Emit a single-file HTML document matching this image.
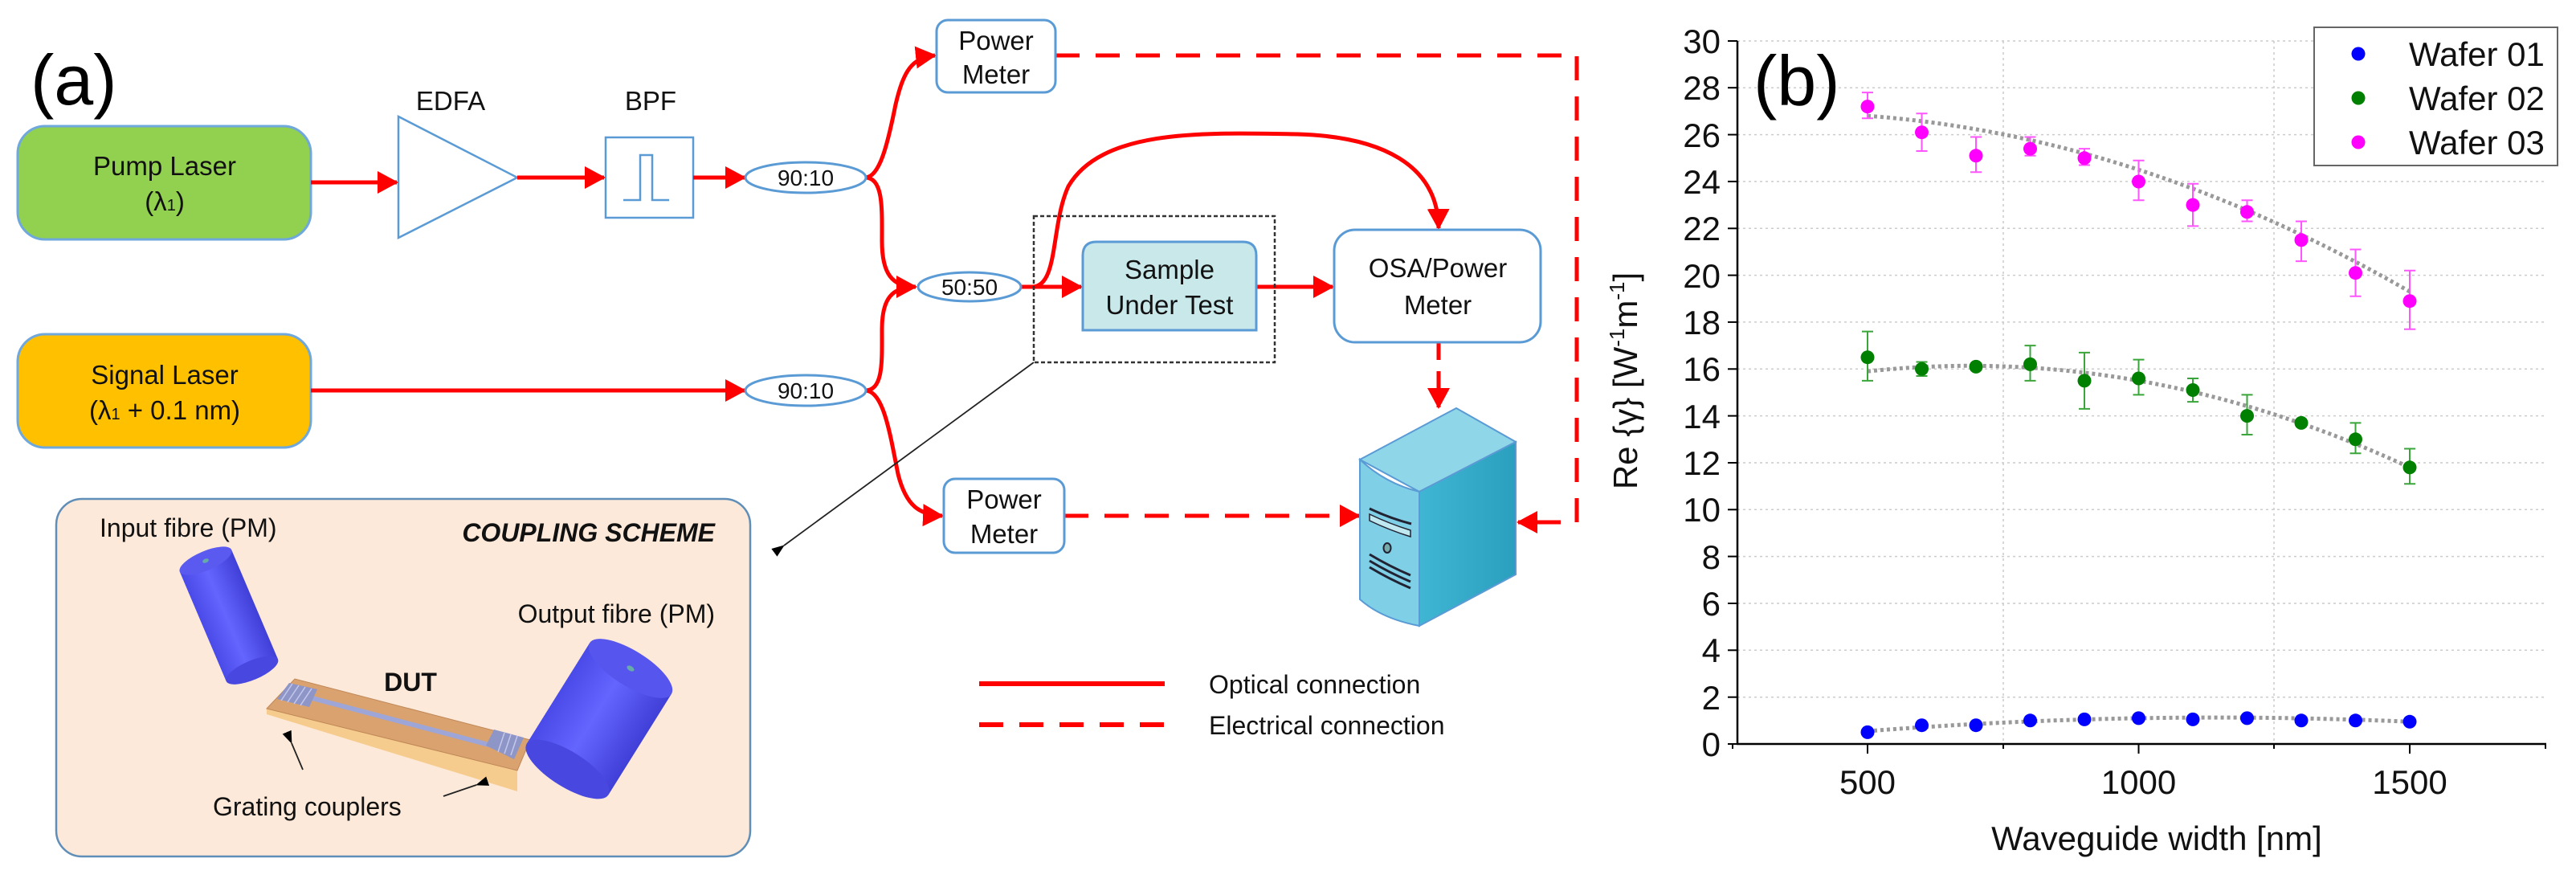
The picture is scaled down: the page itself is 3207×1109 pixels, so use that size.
<!DOCTYPE html>
<html><head><meta charset="utf-8"><style>
html,body{margin:0;padding:0;background:#fff;}
svg{display:block;}
.c{font-family:"Liberation Sans Narrow","Liberation Sans",sans-serif;fill:#111;}
.a{font-family:"Liberation Sans",sans-serif;fill:#111;}
</style></head><body>
<svg width="3207" height="1109" viewBox="0 0 3207 1109" xmlns="http://www.w3.org/2000/svg">
<defs>
<marker id="ar" markerUnits="userSpaceOnUse" markerWidth="26" markerHeight="28" refX="24" refY="14" orient="auto"><path d="M0,0 L26,14 L0,28 z" fill="#ff0000"/></marker>
<marker id="ab" markerUnits="userSpaceOnUse" markerWidth="16" markerHeight="12" refX="1" refY="6" orient="auto"><path d="M16,0 L0,6 L16,12 z" fill="#000"/></marker>
<linearGradient id="srvR" x1="0" x2="1"><stop offset="0" stop-color="#3fb6d3"/><stop offset="1" stop-color="#2a9fbe"/></linearGradient>
<linearGradient id="cyl" x1="0" x2="1"><stop offset="0" stop-color="#4a4ae8"/><stop offset="0.45" stop-color="#6464ff"/><stop offset="1" stop-color="#4040d8"/></linearGradient>
</defs>

<!-- (a) label -->
<text x="38" y="130" font-family="Liberation Sans,sans-serif" font-size="88" fill="#000">(a)</text>

<!-- lasers -->
<rect x="22" y="157" width="365" height="141" rx="34" fill="#92d050" stroke="#6fa8dc" stroke-width="3"/>
<text class="c" x="205" y="218" font-size="33" text-anchor="middle">Pump Laser</text>
<text class="c" x="205" y="262" font-size="33" text-anchor="middle">(λ<tspan font-size="20">1</tspan>)</text>
<rect x="22" y="416" width="365" height="141" rx="34" fill="#ffc000" stroke="#6fa8dc" stroke-width="3"/>
<text class="c" x="205" y="478" font-size="33" text-anchor="middle">Signal Laser</text>
<text class="c" x="205" y="522" font-size="33" text-anchor="middle">(λ<tspan font-size="20">1</tspan> + 0.1 nm)</text>

<!-- EDFA / BPF -->
<text class="c" x="561" y="137" font-size="33" text-anchor="middle">EDFA</text>
<polygon points="496,145 644,221 496,296" fill="#fff" stroke="#5b9bd5" stroke-width="2.5"/>
<text class="c" x="810" y="137" font-size="33" text-anchor="middle">BPF</text>
<rect x="754" y="171" width="109" height="100" fill="#fff" stroke="#5b9bd5" stroke-width="2.5"/>
<path d="M776,249 H797 V193 H812 V249 H833" fill="none" stroke="#5b9bd5" stroke-width="2.5"/>

<!-- optical lines -->
<g stroke="#ff0000" stroke-width="5" fill="none">
<line x1="387" y1="227" x2="494" y2="227" marker-end="url(#ar)"/>
<line x1="644" y1="221" x2="752" y2="221" marker-end="url(#ar)"/>
<line x1="863" y1="221" x2="927" y2="221" marker-end="url(#ar)"/>
<line x1="387" y1="486" x2="927" y2="486" marker-end="url(#ar)"/>
<path d="M1077,221 C1095,221 1105,180 1115,130 C1125,88 1135,72 1164,69" marker-end="url(#ar)"/>
<path d="M1077,221 C1100,221 1098,260 1098,300 C1098,340 1110,357 1140,357" marker-end="url(#ar)"/>
<path d="M1077,486 C1100,486 1098,450 1098,410 C1098,372 1110,357 1140,357"/>
<path d="M1077,486 C1100,486 1108,540 1118,590 C1128,630 1145,641 1173,642" marker-end="url(#ar)"/>
<line x1="1271" y1="357" x2="1346" y2="357" marker-end="url(#ar)"/>
<line x1="1564" y1="357" x2="1659" y2="357" marker-end="url(#ar)"/>
<path d="M1285,357 C1318,357 1308,280 1330,232 C1372,160 1500,165 1615,167 C1720,170 1790,205 1791,284" marker-end="url(#ar)"/>
</g>

<!-- electrical dashed -->
<g stroke="#ff0000" stroke-width="5" fill="none" stroke-dasharray="30,20">
<path d="M1314,69 H1963 V650 H1890" marker-end="url(#ar)"/>
<line x1="1325" y1="642" x2="1692" y2="642" marker-end="url(#ar)"/>
<line x1="1791" y1="426" x2="1791" y2="507" stroke-dasharray="22,14" marker-end="url(#ar)"/>
</g>

<!-- splitters -->
<ellipse cx="1003" cy="221" rx="75" ry="19" fill="#fff" stroke="#5b9bd5" stroke-width="3"/>
<text class="c" x="1003" y="231" font-size="28" text-anchor="middle">90:10</text>
<ellipse cx="1003" cy="486" rx="75" ry="19" fill="#fff" stroke="#5b9bd5" stroke-width="3"/>
<text class="c" x="1003" y="496" font-size="28" text-anchor="middle">90:10</text>
<ellipse cx="1207" cy="357" rx="64" ry="18" fill="#fff" stroke="#5b9bd5" stroke-width="3"/>
<text class="c" x="1207" y="367" font-size="28" text-anchor="middle">50:50</text>

<!-- power meters -->
<rect x="1166" y="25" width="148" height="90" rx="14" fill="#fff" stroke="#5b9bd5" stroke-width="3"/>
<text class="c" x="1240" y="62" font-size="33" text-anchor="middle">Power</text>
<text class="c" x="1240" y="104" font-size="33" text-anchor="middle">Meter</text>
<rect x="1175" y="596" width="150" height="92" rx="14" fill="#fff" stroke="#5b9bd5" stroke-width="3"/>
<text class="c" x="1250" y="633" font-size="33" text-anchor="middle">Power</text>
<text class="c" x="1250" y="676" font-size="33" text-anchor="middle">Meter</text>

<!-- dotted box & SUT -->
<rect x="1287" y="269" width="300" height="182" fill="none" stroke="#333" stroke-width="2.5" stroke-dasharray="5,3"/>
<path d="M1348,411 V318 Q1348,301 1365,301 H1547 Q1564,301 1564,318 V411 Z" fill="#c9e8ea" stroke="#5b9bd5" stroke-width="3"/>
<text class="c" x="1456" y="347" font-size="33" text-anchor="middle">Sample</text>
<text class="c" x="1456" y="391" font-size="33" text-anchor="middle">Under Test</text>
<line x1="1287" y1="451" x2="976" y2="679" stroke="#222" stroke-width="1.8" marker-end="url(#ab)"/>

<!-- OSA -->
<rect x="1661" y="286" width="257" height="140" rx="26" fill="#fff" stroke="#5b9bd5" stroke-width="3"/>
<text class="c" x="1790" y="345" font-size="33" text-anchor="middle">OSA/Power</text>
<text class="c" x="1790" y="391" font-size="33" text-anchor="middle">Meter</text>

<!-- server -->
<polygon points="1693,572 1813,508 1887,550 1767,612" fill="#8fd6e8" stroke="#5b9bd5" stroke-width="2"/>
<polygon points="1767,612 1887,550 1887,715 1767,779" fill="url(#srvR)" stroke="#5b9bd5" stroke-width="2"/>
<path d="M1693,572 Q1725,602 1767,612 V779 Q1720,770 1693,746 Z" fill="#7fd0e6" stroke="#5b9bd5" stroke-width="2"/>
<g stroke="#223" stroke-width="3" fill="none">
<path d="M1705,633 Q1730,645 1757,652"/>
<path d="M1705,690 Q1730,705 1756,716"/><path d="M1705,698 Q1730,713 1756,724"/><path d="M1705,706 Q1730,721 1756,732"/>
</g>
<path d="M1705,640 Q1730,652 1756,660 V668 Q1730,660 1705,648 Z" fill="#bfe8f0" stroke="#223" stroke-width="1.5"/>
<ellipse cx="1727" cy="682" rx="4.5" ry="6" fill="#7aa" stroke="#223" stroke-width="2"/>

<!-- legend -->
<line x1="1219" y1="851" x2="1450" y2="851" stroke="#ff0000" stroke-width="6"/>
<text class="c" x="1505" y="863" font-size="32">Optical connection</text>
<line x1="1219" y1="902" x2="1450" y2="902" stroke="#ff0000" stroke-width="6" stroke-dasharray="30,20"/>
<text class="c" x="1505" y="914" font-size="32">Electrical connection</text>

<!-- coupling scheme -->
<rect x="70" y="621" width="864" height="445" rx="32" fill="#fde9d9" stroke="#5f8fb8" stroke-width="2.5"/>
<text class="c" x="124" y="668" font-size="32">Input fibre (PM)</text>
<text class="c" x="890" y="674" font-size="32" font-weight="bold" font-style="italic" text-anchor="end">COUPLING SCHEME</text>
<text class="c" x="890" y="775" font-size="32" text-anchor="end">Output fibre (PM)</text>
<g transform="translate(256,698) rotate(-23)">
<rect x="-35" y="0" width="70" height="148" fill="url(#cyl)"/>
<ellipse cx="0" cy="148" rx="35" ry="12" fill="#4848e0"/>
<ellipse cx="0" cy="0" rx="35" ry="12" fill="#5a5af0"/>
<ellipse cx="0" cy="0" rx="4" ry="2.5" fill="#6aa"/>
</g>
<!-- chip -->
<polygon points="332,882 644,959 644,985 332,889" fill="#f6cc8e"/>
<polygon points="332,882 367,845 660,921 644,959" fill="#d9a26f" stroke="#c08858" stroke-width="1"/>
<line x1="385" y1="868" x2="620" y2="930" stroke="#9ea6d8" stroke-width="6"/>
<polygon points="345,870 360,850 395,858 385,880" fill="#8e96c8"/>
<polygon points="605,928 615,908 652,918 640,945" fill="#8e96c8"/>
<g stroke="#c5c8ec" stroke-width="1.5"><line x1="350" y1="872" x2="364" y2="851"/><line x1="358" y1="874" x2="372" y2="853"/><line x1="366" y1="876" x2="380" y2="855"/><line x1="374" y1="878" x2="388" y2="857"/><line x1="620" y1="936" x2="628" y2="912"/><line x1="628" y1="938" x2="636" y2="914"/><line x1="636" y1="940" x2="644" y2="916"/></g>
<text class="c" x="511" y="860" font-size="32" font-weight="bold" text-anchor="middle">DUT</text>
<g transform="translate(785,832) rotate(32)">
<rect x="-60" y="0" width="120" height="148" fill="url(#cyl)"/>
<ellipse cx="0" cy="148" rx="60" ry="22" fill="#4848e0"/>
<ellipse cx="0" cy="0" rx="60" ry="22" fill="#5656ee"/>
<ellipse cx="0" cy="0" rx="5" ry="3" fill="#6aa"/>
</g>
<text class="c" x="265" y="1015" font-size="32">Grating couplers</text>
<line x1="377" y1="958" x2="363" y2="925" stroke="#222" stroke-width="1.8" marker-end="url(#ab)"/>
<line x1="552" y1="991" x2="593" y2="977" stroke="#222" stroke-width="1.8" marker-end="url(#ab)"/>

<!-- ===== plot (b) ===== -->
<g stroke="#ccc" stroke-width="1.5" stroke-dasharray="3,4">
<line x1="2163" x2="3170" y1="867.7" y2="867.7"/><line x1="2163" x2="3170" y1="809.3" y2="809.3"/><line x1="2163" x2="3170" y1="751" y2="751"/><line x1="2163" x2="3170" y1="692.6" y2="692.6"/><line x1="2163" x2="3170" y1="634.3" y2="634.3"/><line x1="2163" x2="3170" y1="576" y2="576"/><line x1="2163" x2="3170" y1="517.6" y2="517.6"/><line x1="2163" x2="3170" y1="459.3" y2="459.3"/><line x1="2163" x2="3170" y1="400.9" y2="400.9"/><line x1="2163" x2="3170" y1="342.6" y2="342.6"/><line x1="2163" x2="3170" y1="284.3" y2="284.3"/><line x1="2163" x2="3170" y1="225.9" y2="225.9"/><line x1="2163" x2="3170" y1="167.6" y2="167.6"/><line x1="2163" x2="3170" y1="109.2" y2="109.2"/><line x1="2163" x2="3170" y1="51" y2="51"/>
<line x1="2494" x2="2494" y1="51" y2="926"/><line x1="2831" x2="2831" y1="51" y2="926"/>
</g>
<g stroke="#000" stroke-width="2.5">
<line x1="2163" y1="51" x2="2163" y2="927"/>
<line x1="2162" y1="926" x2="3170" y2="926"/>
</g>
<g stroke="#000" stroke-width="2">
<line x1="2151" x2="2163" y1="926" y2="926"/><line x1="2151" x2="2163" y1="867.7" y2="867.7"/><line x1="2151" x2="2163" y1="809.3" y2="809.3"/><line x1="2151" x2="2163" y1="751" y2="751"/><line x1="2151" x2="2163" y1="692.6" y2="692.6"/><line x1="2151" x2="2163" y1="634.3" y2="634.3"/><line x1="2151" x2="2163" y1="576" y2="576"/><line x1="2151" x2="2163" y1="517.6" y2="517.6"/><line x1="2151" x2="2163" y1="459.3" y2="459.3"/><line x1="2151" x2="2163" y1="400.9" y2="400.9"/><line x1="2151" x2="2163" y1="342.6" y2="342.6"/><line x1="2151" x2="2163" y1="284.3" y2="284.3"/><line x1="2151" x2="2163" y1="225.9" y2="225.9"/><line x1="2151" x2="2163" y1="167.6" y2="167.6"/><line x1="2151" x2="2163" y1="109.2" y2="109.2"/><line x1="2151" x2="2163" y1="51" y2="51"/>
<line x1="2325" x2="2325" y1="926" y2="938"/><line x1="2662.5" x2="2662.5" y1="926" y2="938"/><line x1="3000" x2="3000" y1="926" y2="938"/>
<line x1="2157" x2="2157" y1="926" y2="932"/><line x1="2494" x2="2494" y1="926" y2="932"/><line x1="2831" x2="2831" y1="926" y2="932"/><line x1="3169" x2="3169" y1="926" y2="932"/>
</g>
<g class="a" font-size="42" text-anchor="end">
<text x="2142" y="941">0</text><text x="2142" y="883">2</text><text x="2142" y="824">4</text><text x="2142" y="766">6</text><text x="2142" y="708">8</text><text x="2142" y="649">10</text><text x="2142" y="591">12</text><text x="2142" y="533">14</text><text x="2142" y="474">16</text><text x="2142" y="416">18</text><text x="2142" y="358">20</text><text x="2142" y="299">22</text><text x="2142" y="241">24</text><text x="2142" y="183">26</text><text x="2142" y="124">28</text><text x="2142" y="66">30</text>
</g>
<g class="a" font-size="42" text-anchor="middle">
<text x="2325" y="988">500</text><text x="2662.5" y="988">1000</text><text x="3000" y="988">1500</text>
</g>
<text class="a" x="2685" y="1058" font-size="42" text-anchor="middle">Waveguide width [nm]</text>
<text class="a" font-size="42" text-anchor="middle" transform="translate(2038,474) rotate(-90)">Re {γ} [W<tspan font-size="26" dy="-16">-1</tspan><tspan dy="16">m</tspan><tspan font-size="26" dy="-16">-1</tspan><tspan dy="16">]</tspan></text>
<text x="2183" y="131" font-family="Liberation Sans,sans-serif" font-size="88" fill="#000">(b)</text>

<!-- fits -->
<g fill="none" stroke="#999" stroke-width="5" stroke-dasharray="4,4">
<path d="M2325,144.2 Q2662.5,169 3000,363"/>
<path d="M2325,462.2 Q2662.5,425.7 3000,581.8"/>
<path d="M2325,910 Q2662.5,883.7 3000,898.3"/>
</g>

<!-- error bars W03 -->
<g stroke="#ff55ff" stroke-width="2">
<path d="M2325,147.2V115.1M2318,147.2H2332M2318,115.1H2332"/>
<path d="M2392.5,188V141.3M2385.5,188H2399.5M2385.5,141.3H2399.5"/>
<path d="M2460,214.3V170.5M2453,214.3H2467M2453,170.5H2467"/>
<path d="M2527.5,193.8V170.5M2520.5,193.8H2534.5M2520.5,170.5H2534.5"/>
<path d="M2595,205.5V185.1M2588,205.5H2602M2588,185.1H2602"/>
<path d="M2662.5,249.3V199.7M2655.5,249.3H2669.5M2655.5,199.7H2669.5"/>
<path d="M2730,281.4V228.8M2723,281.4H2737M2723,228.8H2737"/>
<path d="M2797.5,275.5V249.3M2790.5,275.5H2804.5M2790.5,249.3H2804.5"/>
<path d="M2865,325.1V275.5M2858,325.1H2872M2858,275.5H2872"/>
<path d="M2932.5,368.8V310.5M2925.5,368.8H2939.5M2925.5,310.5H2939.5"/>
<path d="M3000,409.7V336.8M2993,409.7H3007M2993,336.8H3007"/>
</g>
<g stroke="#3aa53a" stroke-width="2">
<path d="M2325,473.9V412.6M2318,473.9H2332M2318,412.6H2332"/>
<path d="M2392.5,468V450.5M2385.5,468H2399.5M2385.5,450.5H2399.5"/>
<path d="M2460,460.7V452M2453,460.7H2467M2453,452H2467"/>
<path d="M2527.5,473.9V430.1M2520.5,473.9H2534.5M2520.5,430.1H2534.5"/>
<path d="M2595,508.9V438.9M2588,508.9H2602M2588,438.9H2602"/>
<path d="M2662.5,491.4V447.6M2655.5,491.4H2669.5M2655.5,447.6H2669.5"/>
<path d="M2730,500.1V471M2723,500.1H2737M2723,471H2737"/>
<path d="M2797.5,541V491.4M2790.5,541H2804.5M2790.5,491.4H2804.5"/>
<path d="M2865,530.7V522M2858,530.7H2872M2858,522H2872"/>
<path d="M2932.5,564.3V526.4M2925.5,564.3H2939.5M2925.5,526.4H2939.5"/>
<path d="M3000,602.2V558.5M2993,602.2H3007M2993,558.5H3007"/>
</g>
<g fill="#ff00ff">
<circle cx="2325" cy="132.6" r="8.5"/><circle cx="2392.5" cy="164.7" r="8.5"/><circle cx="2460" cy="193.8" r="8.5"/><circle cx="2527.5" cy="185.1" r="8.5"/><circle cx="2595" cy="196.8" r="8.5"/><circle cx="2662.5" cy="226" r="8.5"/><circle cx="2730" cy="255.1" r="8.5"/><circle cx="2797.5" cy="263.8" r="8.5"/><circle cx="2865" cy="298.8" r="8.5"/><circle cx="2932.5" cy="339.7" r="8.5"/><circle cx="3000" cy="374.7" r="8.5"/>
</g>
<g fill="#008000">
<circle cx="2325" cy="444.7" r="8.5"/><circle cx="2392.5" cy="459.3" r="8.5"/><circle cx="2460" cy="456.4" r="8.5"/><circle cx="2527.5" cy="453.4" r="8.5"/><circle cx="2595" cy="473.9" r="8.5"/><circle cx="2662.5" cy="471" r="8.5"/><circle cx="2730" cy="485.5" r="8.5"/><circle cx="2797.5" cy="517.6" r="8.5"/><circle cx="2865" cy="526.4" r="8.5"/><circle cx="2932.5" cy="546.8" r="8.5"/><circle cx="3000" cy="581.8" r="8.5"/>
</g>
<g fill="#0000ff">
<circle cx="2325" cy="911.4" r="8.5"/><circle cx="2392.5" cy="902.7" r="8.5"/><circle cx="2460" cy="902.7" r="8.5"/><circle cx="2527.5" cy="896.8" r="8.5"/><circle cx="2595" cy="895.4" r="8.5"/><circle cx="2662.5" cy="893.9" r="8.5"/><circle cx="2730" cy="895.4" r="8.5"/><circle cx="2797.5" cy="893.9" r="8.5"/><circle cx="2865" cy="896.8" r="8.5"/><circle cx="2932.5" cy="896.8" r="8.5"/><circle cx="3000" cy="898.3" r="8.5"/>
</g>

<!-- plot legend -->
<rect x="2881" y="34" width="303" height="172" fill="#fff" stroke="#666" stroke-width="2"/>
<circle cx="2936" cy="67" r="8.5" fill="#0000ff"/>
<circle cx="2936" cy="122" r="8.5" fill="#008000"/>
<circle cx="2936" cy="177" r="8.5" fill="#ff00ff"/>
<g class="a" font-size="42"><text x="2999" y="82">Wafer 01</text><text x="2999" y="137">Wafer 02</text><text x="2999" y="192">Wafer 03</text></g>
</svg>
</body></html>
